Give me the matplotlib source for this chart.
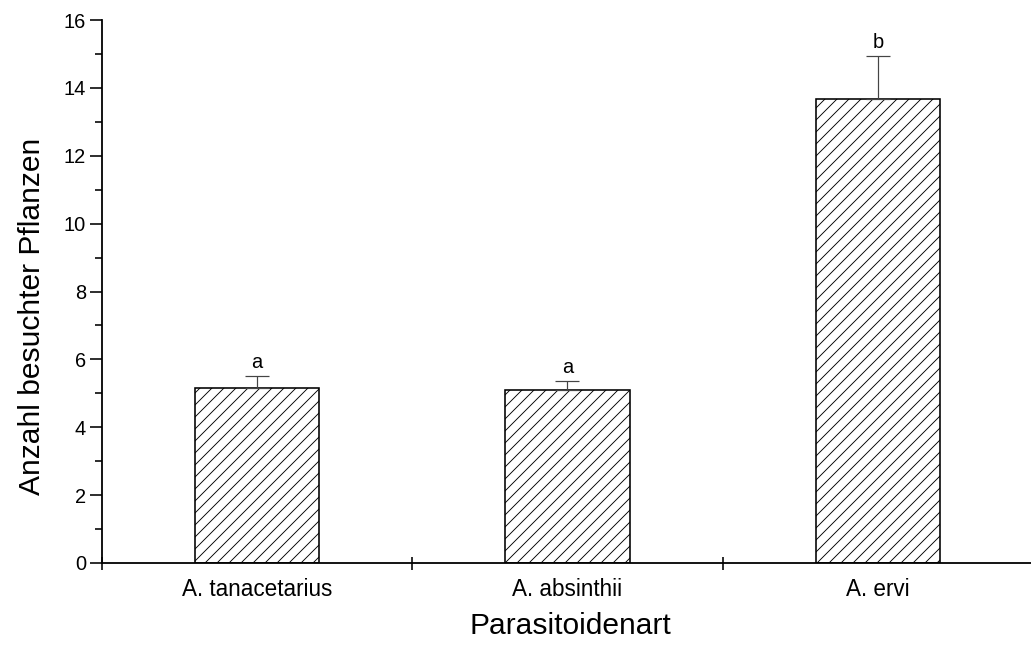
import matplotlib
matplotlib.use("Agg")
import matplotlib.pyplot as plt

# Data
species = ["A. tanacetarius", "A. absinthii", "A. ervi"]
mean_plants = [5.16, 5.10, 13.67]
err_upper = [0.36, 0.27, 1.27]
letters = ["a", "a", "b"]
y_ticks = [0, 2, 4, 6, 8, 10, 12, 14, 16]

plt.rcParams["font.family"] = ["Liberation Sans", "DejaVu Sans"]
plt.rcParams["hatch.linewidth"] = 0.9
plt.rcParams["hatch.color"] = "black"

DPI = 72
fig = plt.figure(figsize=(1031 / DPI, 645 / DPI), dpi=DPI)
ax = fig.add_axes([102 / 1031, 1 - 563 / 645, (1033 - 102) / 1031, (563 - 20) / 645])

x = list(range(1, len(species) + 1))
ax.bar(x, mean_plants, width=0.4, color="white", edgecolor="black",
       linewidth=1.6, hatch="//", zorder=2)
ax.errorbar(x, mean_plants, yerr=[[0] * len(x), err_upper], fmt="none",
            ecolor="#444444", elinewidth=1.2, capsize=12, capthick=1.2, zorder=3)

for xi, m, e, lab in zip(x, mean_plants, err_upper, letters):
    ax.annotate(lab, (xi, m + e), xytext=(0, 4), textcoords="offset points",
                ha="center", va="bottom", fontsize=20)

ax.set_xlim(0.5, 3.5)
ax.set_ylim(0, 16)
ax.set_yticks(y_ticks)
ax.set_yticks(range(1, 16, 2), minor=True)

# category boundaries as major ticks, labels centred on minor ticks
ax.set_xticks([0.5, 1.5, 2.5, 3.5])
ax.set_xticklabels([])
ax.set_xticks(x, minor=True)
ax.set_xticklabels(species, minor=True, fontsize=22.5)
ax.tick_params(axis="x", which="major", direction="inout", length=13, width=1.6)
ax.tick_params(axis="x", which="minor", length=0, pad=15)
ax.tick_params(axis="y", which="major", direction="out", length=12, width=1.6,
               labelsize=20, pad=4)
ax.tick_params(axis="y", which="minor", direction="out", length=7, width=1.6)

for side in ("top", "right"):
    ax.spines[side].set_visible(False)
for side in ("left", "bottom"):
    ax.spines[side].set_linewidth(1.8)

ax_h = 563 - 20
ax_w = 1033 - 102
ax.set_ylabel("Anzahl besuchter Pflanzen", fontsize=30)
ax.yaxis.set_label_coords(-(102 - 46) / ax_w, (563 - 316) / ax_h)
ax.set_xlabel("Parasitoidenart", fontsize=30)
ax.xaxis.set_label_coords((570 - 102) / ax_w, -(612 - 563) / ax_h)

fig.savefig("out.png", dpi=DPI)
